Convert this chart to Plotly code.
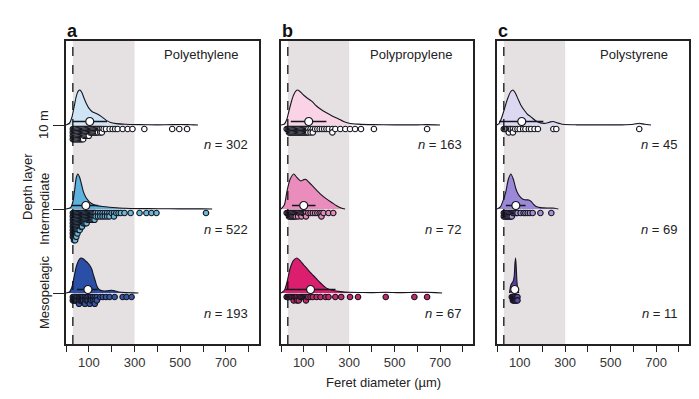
import plotly.graph_objects as go

# ---------------- data ----------------
panel_titles = ["Polyethylene", "Polypropylene", "Polystyrene"]
panel_letters = ["a", "b", "c"]
layer_labels = ["10 m", "Intermediate", "Mesopelagic"]
layer_pos = [2, 1, 0]
x_tick_vals = [0, 100, 200, 300, 400, 500, 600, 700, 800]
x_tick_text = ["", "100", "", "300", "", "500", "", "700", ""]

pe_n = [302, 522, 193]
pp_n = [163, 72, 67]
ps_n = [45, 69, 11]

# density outlines (diameter in µm, relative height)
pe_10m_dens_x = [0, 15, 25, 35, 45, 55, 61, 70, 80, 90, 100, 115, 135, 155, 175, 195, 220, 260, 320, 400, 470, 500, 530, 560, 578]
pe_10m_dens_h = [0, 0.05, 0.2, 0.5, 0.82, 0.98, 1.0, 0.92, 0.75, 0.6, 0.48, 0.38, 0.32, 0.24, 0.14, 0.07, 0.04, 0.02, 0.01, 0.005, 0.01, 0.015, 0.01, 0.005, 0]
pe_int_dens_x = [0, 20, 30, 38, 45, 52, 60, 68, 75, 85, 95, 105, 120, 140, 160, 190, 220, 260, 320, 400, 500, 600, 640]
pe_int_dens_h = [0, 0.04, 0.2, 0.55, 0.9, 1.0, 0.9, 0.7, 0.52, 0.36, 0.26, 0.19, 0.13, 0.09, 0.07, 0.05, 0.035, 0.02, 0.012, 0.008, 0.004, 0.003, 0]
pe_mes_dens_x = [0, 15, 25, 35, 45, 55, 65, 75, 85, 95, 105, 113, 120, 128, 135, 145, 160, 180, 200, 215, 230, 260, 290, 317]
pe_mes_dens_h = [0, 0.03, 0.15, 0.45, 0.75, 0.93, 1.0, 0.98, 0.92, 0.86, 0.78, 0.68, 0.52, 0.35, 0.2, 0.1, 0.06, 0.06, 0.08, 0.06, 0.03, 0.01, 0.005, 0]

pp_10m_dens_x = [0, 15, 25, 35, 45, 55, 65, 74, 85, 100, 115, 135, 155, 175, 200, 225, 252, 275, 300, 340, 400, 500, 600, 640, 700]
pp_10m_dens_h = [0, 0.03, 0.15, 0.4, 0.65, 0.85, 0.97, 1.0, 0.95, 0.85, 0.77, 0.68, 0.55, 0.45, 0.35, 0.26, 0.18, 0.1, 0.05, 0.025, 0.01, 0.005, 0.005, 0.01, 0]
pp_int_dens_x = [0, 15, 26, 40, 56, 70, 87, 100, 109, 125, 152, 175, 200, 225, 243, 265, 282]
pp_int_dens_h = [0, 0.12, 0.5, 0.85, 1.0, 0.9, 0.8, 0.84, 0.85, 0.75, 0.57, 0.42, 0.29, 0.18, 0.1, 0.03, 0]
pp_mes_dens_x = [0, 15, 26, 40, 55, 70, 85, 100, 113, 130, 157, 180, 200, 230, 261, 300, 350, 400, 460, 520, 590, 640, 680, 709]
pp_mes_dens_h = [0, 0.08, 0.3, 0.7, 0.93, 1.0, 0.92, 0.8, 0.71, 0.58, 0.4, 0.25, 0.14, 0.07, 0.04, 0.02, 0.015, 0.01, 0.02, 0.01, 0.02, 0.02, 0.01, 0]

ps_10m_dens_x = [0, 10, 20, 30, 45, 60, 70, 80, 92, 104, 120, 135, 148, 170, 191, 215, 235, 248, 262, 290, 350, 450, 550, 600, 626, 650, 678]
ps_10m_dens_h = [0, 0.05, 0.2, 0.4, 0.72, 0.95, 1.0, 0.92, 0.75, 0.58, 0.42, 0.3, 0.24, 0.12, 0.06, 0.05, 0.09, 0.1, 0.07, 0.02, 0.005, 0.003, 0.005, 0.02, 0.05, 0.02, 0]
ps_int_dens_x = [0, 15, 30, 39, 50, 61, 72, 82, 91, 104, 117, 130, 139, 150, 160, 170, 190, 220, 245, 270]
ps_int_dens_h = [0, 0.06, 0.3, 0.5, 0.85, 1.0, 0.85, 0.6, 0.45, 0.33, 0.27, 0.26, 0.26, 0.22, 0.14, 0.08, 0.04, 0.03, 0.03, 0]
ps_mes_dens_x = [55, 60, 64, 68, 72, 76, 79, 82, 85, 88, 92, 96]
ps_mes_dens_h = [0, 0.2, 0.27, 0.3, 0.35, 0.5, 0.85, 1.0, 0.7, 0.3, 0.08, 0]

# particle dots: bin value (µm) and stacked count
pe_10m_dot_x = [30, 35, 40, 45, 50, 55, 60, 65, 70, 75, 80, 85, 90, 95, 100, 105, 110, 115, 120, 125, 130, 135, 140, 145, 150, 157, 165, 175, 191, 204, 215, 226, 248, 270, 291, 343, 465, 496, 530]
pe_10m_dot_n = [4, 4, 4, 4, 4, 4, 4, 4, 4, 4, 3, 3, 3, 3, 3, 2, 2, 2, 2, 2, 2, 2, 2, 1, 2, 2, 1, 1, 1, 1, 1, 1, 1, 1, 1, 1, 1, 1, 1]
pe_int_dot_x = [30, 35, 40, 45, 50, 55, 60, 65, 70, 75, 80, 85, 90, 95, 100, 105, 110, 115, 120, 125, 130, 140, 150, 160, 170, 180, 190, 200, 210, 220, 230, 240, 256, 283, 322, 352, 374, 396, 613]
pe_int_dot_n = [8, 9, 9, 8, 7, 6, 6, 5, 5, 4, 4, 4, 4, 3, 3, 3, 3, 3, 3, 3, 2, 2, 2, 2, 2, 2, 2, 1, 2, 1, 1, 1, 1, 1, 1, 1, 1, 1, 1]
pe_mes_dot_x = [30, 35, 40, 45, 50, 57, 60, 65, 70, 75, 83, 90, 95, 104, 110, 118, 126, 135, 150, 161, 175, 191, 213, 248, 265, 287]
pe_mes_dot_n = [2, 2, 2, 2, 2, 3, 2, 2, 2, 2, 3, 2, 2, 3, 2, 2, 3, 2, 1, 1, 1, 1, 1, 1, 1, 1]

pp_10m_dot_x = [25, 30, 35, 40, 45, 50, 55, 60, 65, 70, 75, 80, 85, 90, 95, 100, 105, 110, 115, 120, 130, 140, 150, 160, 170, 180, 190, 200, 210, 226, 239, 261, 283, 304, 326, 352, 409, 643]
pp_10m_dot_n = [1, 1, 2, 2, 2, 2, 2, 2, 2, 2, 2, 2, 2, 2, 2, 2, 2, 2, 2, 2, 2, 2, 1, 1, 1, 1, 1, 1, 1, 2, 1, 1, 1, 1, 1, 1, 1, 1]
pp_int_dot_x = [25, 30, 35, 40, 45, 50, 55, 60, 65, 70, 75, 80, 85, 90, 95, 100, 105, 110, 120, 130, 140, 150, 160, 170, 178, 187, 209, 230]
pp_int_dot_n = [1, 1, 2, 2, 2, 2, 2, 2, 2, 1, 2, 1, 1, 2, 1, 1, 1, 2, 1, 1, 1, 1, 1, 1, 2, 1, 1, 1]
pp_mes_dot_x = [25, 30, 35, 40, 45, 50, 56, 60, 65, 70, 78, 85, 90, 95, 100, 105, 110, 115, 120, 130, 140, 157, 174, 196, 209, 239, 265, 304, 339, 461, 587, 643]
pp_mes_dot_n = [1, 1, 1, 1, 1, 1, 2, 1, 1, 2, 2, 1, 1, 1, 1, 1, 2, 1, 1, 1, 1, 1, 1, 1, 1, 1, 1, 1, 1, 1, 1, 1]

ps_10m_dot_x = [30, 35, 40, 45, 52, 57, 62, 70, 80, 90, 100, 115, 125, 140, 150, 165, 180, 248, 261, 626]
ps_10m_dot_n = [1, 1, 1, 1, 2, 1, 1, 2, 1, 1, 1, 1, 1, 1, 1, 1, 1, 1, 1, 1]
ps_int_dot_x = [30, 35, 40, 45, 50, 55, 60, 65, 70, 75, 80, 85, 90, 104, 117, 125, 135, 145, 157, 191, 239]
ps_int_dot_n = [2, 2, 2, 2, 2, 2, 2, 2, 1, 1, 1, 1, 1, 1, 1, 1, 1, 1, 1, 1, 1]
ps_mes_dot_x = [65, 70, 75, 80, 85, 90]
ps_mes_dot_n = [1, 2, 2, 2, 2, 2]

# summary: mean (white circle) and spread line
pe_mean = [104, 87, 96]
pe_lo = [30, 26, 48]
pe_hi = [180, 139, 139]
pp_mean = [122, 100, 130]
pp_lo = [43, 48, 20]
pp_hi = [200, 152, 240]
ps_mean = [109, 83, 78]
ps_lo = [9, 39, 70]
ps_hi = [204, 126, 88]

pe_fill = ["#cfe5f5", "#5db2de", "#2b4fa6"]
pp_fill = ["#fad4e6", "#ea8dbc", "#dc1e6e"]
ps_fill = ["#dcd8f2", "#9c88d8", "#5a3da3"]
pe_dot = ["#ffffff", "#6cb8da", "#3656a6"]
pp_dot = ["#ffffff", "#e58db8", "#c6296a"]
ps_dot = ["#ffffff", "#a393d6", "#5e48a6"]

# ---------------- style constants ----------------
W, H = 699, 399
FONT = "Liberation Sans, Arial, sans-serif"
PX_PER_UNIT = 84.0
DENS_H = 35 / PX_PER_UNIT
DOT_OFF = 4 / PX_PER_UNIT
DOT_STEP = 3.4 / PX_PER_UNIT
MEAN_OFF = 3.5 / PX_PER_UNIT
X_RANGE = [0, 845]
Y_RANGE = [-0.607, 3.0]
panel_px = [(66, 259), (281, 473), (497, 689)]
top_px, bot_px = 41, 344
OUTLINE = "#15151f"

panels = [
    dict(dens=[(pe_10m_dens_x, pe_10m_dens_h), (pe_int_dens_x, pe_int_dens_h), (pe_mes_dens_x, pe_mes_dens_h)],
         dots=[(pe_10m_dot_x, pe_10m_dot_n), (pe_int_dot_x, pe_int_dot_n), (pe_mes_dot_x, pe_mes_dot_n)],
         mean=pe_mean, lo=pe_lo, hi=pe_hi, fill=pe_fill, dot=pe_dot, n=pe_n),
    dict(dens=[(pp_10m_dens_x, pp_10m_dens_h), (pp_int_dens_x, pp_int_dens_h), (pp_mes_dens_x, pp_mes_dens_h)],
         dots=[(pp_10m_dot_x, pp_10m_dot_n), (pp_int_dot_x, pp_int_dot_n), (pp_mes_dot_x, pp_mes_dot_n)],
         mean=pp_mean, lo=pp_lo, hi=pp_hi, fill=pp_fill, dot=pp_dot, n=pp_n),
    dict(dens=[(ps_10m_dens_x, ps_10m_dens_h), (ps_int_dens_x, ps_int_dens_h), (ps_mes_dens_x, ps_mes_dens_h)],
         dots=[(ps_10m_dot_x, ps_10m_dot_n), (ps_int_dot_x, ps_int_dot_n), (ps_mes_dot_x, ps_mes_dot_n)],
         mean=ps_mean, lo=ps_lo, hi=ps_hi, fill=ps_fill, dot=ps_dot, n=ps_n),
]

fig = go.Figure()
annotations = []
shapes = []

for p, pan in enumerate(panels):
    xa = "x" if p == 0 else f"x{p+1}"
    ya = "y" if p == 0 else f"y{p+1}"
    for r in range(3):
        base = layer_pos[r]
        dx, dh = pan["dens"][r]
        fig.add_trace(go.Scatter(
            x=dx, y=[base + h * DENS_H for h in dh], xaxis=xa, yaxis=ya,
            mode="lines", fill="toself", fillcolor=pan["fill"][r],
            line=dict(color=OUTLINE, width=1.1, shape="spline", smoothing=0.6),
            hoverinfo="skip", showlegend=False))
        # spread line
        fig.add_trace(go.Scatter(
            x=[pan["lo"][r], pan["hi"][r]], y=[base + MEAN_OFF] * 2, xaxis=xa, yaxis=ya,
            mode="lines", line=dict(color=OUTLINE, width=1.5),
            hoverinfo="skip", showlegend=False))
        # dots
        vx, vn = pan["dots"][r]
        px, py = [], []
        for v, c in zip(vx, vn):
            for k in range(c):
                px.append(v)
                py.append(base - DOT_OFF - k * DOT_STEP)
        fig.add_trace(go.Scatter(
            x=px, y=py, xaxis=xa, yaxis=ya, mode="markers",
            marker=dict(size=5.5, color=pan["dot"][r], line=dict(color=OUTLINE, width=1.1)),
            hoverinfo="skip", showlegend=False))
        # mean marker
        fig.add_trace(go.Scatter(
            x=[pan["mean"][r]], y=[base + MEAN_OFF], xaxis=xa, yaxis=ya, mode="markers",
            marker=dict(size=8, color="white", line=dict(color=OUTLINE, width=1.2)),
            hoverinfo="skip", showlegend=False))
        # n label
        annotations.append(dict(
            x=805, y=base - 20 / PX_PER_UNIT, xref=xa, yref=ya,
            text=f"<i>n</i> = {pan['n'][r]}", showarrow=False, xanchor="right", yanchor="middle",
            font=dict(family=FONT, size=13, color="#222")))
    # shaded band & dashed line
    shapes.append(dict(type="rect", xref=xa, yref=f"{ya} domain", x0=30, x1=300, y0=0, y1=1,
                       fillcolor="#e5e1e2", line=dict(width=0), layer="below"))
    shapes.append(dict(type="line", xref=xa, yref=f"{ya} domain", x0=30, x1=30, y0=0, y1=1,
                       line=dict(color="#111", width=1.3, dash="dash"), layer="above"))
    # titles
    annotations.append(dict(x=panel_px[p][1] - 19, y=54, xref="paper", yref="paper",
                            text=panel_titles[p], showarrow=False, xanchor="right", yanchor="middle",
                            font=dict(family=FONT, size=13, color="#222")))
    annotations.append(dict(x=panel_px[p][0] - 1, y=31, xref="paper", yref="paper",
                            text=f"<b>{panel_letters[p]}</b>", showarrow=False, xanchor="left",
                            yanchor="middle", font=dict(family=FONT, size=18, color="#111")))

# convert pixel-based paper annotations
for a in annotations:
    if a["xref"] == "paper":
        a["x"] = a["x"] / W
        a["y"] = 1 - a["y"] / H

# y-axis labels (rotated)
for lab, pos in zip(layer_labels, layer_pos):
    ypx = 293 - pos * PX_PER_UNIT
    annotations.append(dict(x=44 / W, y=1 - ypx / H, xref="paper", yref="paper", text=lab,
                            textangle=-90, showarrow=False, xanchor="center", yanchor="middle",
                            font=dict(family=FONT, size=13, color="#222")))
annotations.append(dict(x=27 / W, y=1 - 187 / H, xref="paper", yref="paper", text="Depth layer",
                        textangle=-90, showarrow=False, xanchor="center", yanchor="middle",
                        font=dict(family=FONT, size=13, color="#222")))
annotations.append(dict(x=383 / W, y=1 - 382 / H, xref="paper", yref="paper",
                        text="Feret diameter (µm)", showarrow=False, xanchor="center", yanchor="middle",
                        font=dict(family=FONT, size=13, color="#222")))

layout = dict(width=W, height=H, margin=dict(l=0, r=0, t=0, b=0),
              paper_bgcolor="white", plot_bgcolor="white",
              annotations=annotations, shapes=shapes)

ydom = [1 - bot_px / H, 1 - top_px / H]
for p in range(3):
    xk = "xaxis" if p == 0 else f"xaxis{p+1}"
    yk = "yaxis" if p == 0 else f"yaxis{p+1}"
    layout[xk] = dict(domain=[panel_px[p][0] / W, panel_px[p][1] / W], range=X_RANGE,
                      anchor="y" if p == 0 else f"y{p+1}",
                      tickmode="array", tickvals=x_tick_vals, ticktext=x_tick_text,
                      ticks="outside", ticklen=6, tickwidth=1, tickcolor="#222",
                      showline=True, linecolor="#222", linewidth=1.5, mirror=True,
                      showgrid=False, zeroline=False,
                      tickfont=dict(family=FONT, size=13, color="#333"))
    layout[yk] = dict(domain=ydom, range=Y_RANGE, anchor="x" if p == 0 else f"x{p+1}",
                      tickmode="array", tickvals=layer_pos, ticktext=["", "", ""],
                      ticks="outside" if p == 0 else "", ticklen=11, tickwidth=1.2, tickcolor="#222",
                      showticklabels=False,
                      showline=True, linecolor="#222", linewidth=1.5, mirror=True,
                      showgrid=False, zeroline=False)

fig.update_layout(**layout)
fig.write_html("out.html", config={"displayModeBar": False},
               post_script="document.body.style.margin='0';document.body.style.overflow='hidden';")
